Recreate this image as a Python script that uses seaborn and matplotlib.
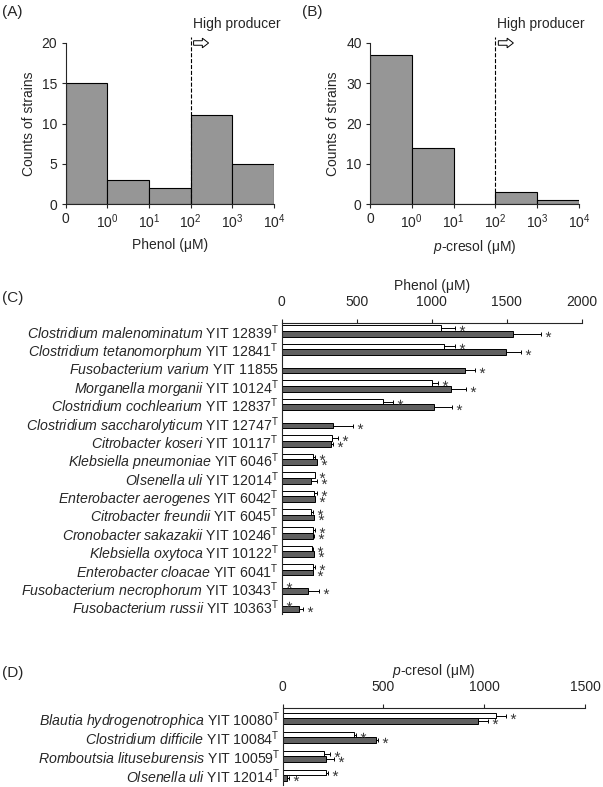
import numpy as np
import pandas as pd
import matplotlib
matplotlib.use("Agg")
import matplotlib.pyplot as plt
from matplotlib.patches import FancyArrow
from matplotlib.transforms import offset_copy
import seaborn as sns

# ---- data ----
bin_labels = ["0", r"$\mathregular{10^{0}}$", r"$\mathregular{10^{1}}$",
              r"$\mathregular{10^{2}}$", r"$\mathregular{10^{3}}$", r"$\mathregular{10^{4}}$"]
phenol_counts = [15, 3, 2, 11, 5]
cresol_counts = [37, 14, 0, 3, 1]

c_species = ["Clostridium malenominatum", "Clostridium tetanomorphum", "Fusobacterium varium",
             "Morganella morganii", "Clostridium cochlearium", "Clostridium saccharolyticum",
             "Citrobacter koseri", "Klebsiella pneumoniae", "Olsenella uli",
             "Enterobacter aerogenes", "Citrobacter freundii", "Cronobacter sakazakii",
             "Klebsiella oxytoca", "Enterobacter cloacae", "Fusobacterium necrophorum",
             "Fusobacterium russii"]
c_strains = ["12839", "12841", "11855", "10124", "12837", "12747", "10117", "6046",
             "12014", "6042", "6045", "10246", "10122", "6041", "10343", "10363"]
c_type = [1, 1, 0, 1, 1, 1, 1, 1, 1, 1, 1, 1, 1, 1, 1, 1]
c_white = [1060, 1080, 0, 1000, 675, 0, 333, 211, 220, 218, 193, 207, 204, 207, 0, 0]
c_white_err = [92, 75, 0, 40, 66, 0, 45, 13, 4, 15, 16, 13, 5, 13, 0, 0]
c_dark = [1545, 1498, 1225, 1128, 1015, 344, 327, 233, 193, 220, 213, 211, 213, 207, 175, 118]
c_dark_err = [184, 98, 65, 102, 117, 131, 13, 5, 40, 4, 5, 4, 5, 4, 76, 26]
c_white_star = [1, 1, 0, 1, 1, 0, 1, 1, 1, 1, 1, 1, 1, 1, 1, 1]

d_species = ["Blautia hydrogenotrophica", "Clostridium difficile",
             "Romboutsia lituseburensis", "Olsenella uli"]
d_strains = ["10080", "10084", "10059", "12014"]
d_type = [1, 1, 1, 1]
d_white = [1057, 354, 205, 215]
d_white_err = [50, 8, 30, 12]
d_dark = [971, 463, 213, 20]
d_dark_err = [49, 12, 42, 13]
d_white_star = [1, 1, 1, 1]

HIST_GREY = "#969696"
DARK_GREY = "#606060"

sns.set_style("ticks")
plt.rcParams["font.family"] = ["Liberation Sans", "DejaVu Sans"]
plt.rcParams["mathtext.fontset"] = "custom"
plt.rcParams["mathtext.rm"] = "Liberation Sans"
plt.rcParams["mathtext.it"] = "Liberation Sans:italic"
plt.rcParams["axes.linewidth"] = 0.8

W, H = 603, 787
fig = plt.figure(figsize=(W / 100, H / 100), dpi=100)


def px_rect(l, t, r, b):
    return [l / W, 1 - b / H, (r - l) / W, (b - t) / H]


def hist_panel(rect, counts, ymax, step, xlabel, tag, tag_x):
    ax = fig.add_axes(px_rect(*rect))
    hdf = pd.DataFrame({"pos": np.arange(len(counts)) + 0.5, "count": counts})
    sns.histplot(data=hdf, x="pos", weights="count", binwidth=1, binrange=(0, len(counts)),
                 color=HIST_GREY, edgecolor="black", linewidth=0.8, alpha=1, ax=ax)
    ax.set_xlim(0, len(counts))
    ax.set_ylim(0, ymax)
    ax.set_xticks(range(len(counts) + 1))
    ax.set_xticklabels(bin_labels)
    ax.set_yticks(np.arange(0, ymax + 1, step))
    ax.tick_params(labelsize=10, length=3, width=0.8, pad=3)
    ax.set_xlabel(xlabel, fontsize=10, labelpad=5)
    ax.set_ylabel("Counts of strains", fontsize=10, labelpad=4)
    sns.despine(ax=ax)
    # threshold line at 10^2 and "high producer" note
    ax.plot([3, 3], [0, ymax * 1.04], ls="--", color="black", lw=0.8, clip_on=False)
    ax.text(3.05, ymax * 1.12, "High producer", fontsize=10, va="center", ha="left")
    ax.add_patch(FancyArrow(3.07, ymax, 0.36, 0, width=ymax * 0.028, head_width=ymax * 0.06,
                            head_length=0.15, length_includes_head=True,
                            fc="white", ec="black", lw=0.7, clip_on=False))
    fig.text(tag_x / W, 1 - 12 / H, tag, fontsize=11, va="center")
    return ax


hist_panel((65.7, 43, 274, 204), phenol_counts, 20, 5, "Phenol (μM)", "(A)", 2)
hist_panel((370, 43, 579, 204), cresol_counts, 40, 10, r"$\it{p}$-cresol (μM)", "(B)", 302)


def fmt_label(sp, st, t):
    sp_tex = sp.replace(" ", r"\ ")
    s = r"$\it{" + sp_tex + "}$ YIT " + st
    if t:
        s += r"$^{\rm T}$"
    return s


def bar_panel(rect, species, strains, types, white, white_err, dark, dark_err, white_star,
              xmax, xstep, xlabel, ylim, width, tag, tag_y):
    ax = fig.add_axes(px_rect(*rect))
    keys = [f"{a} {b}" for a, b in zip(species, strains)]
    df = pd.DataFrame({
        "strain": keys * 2,
        "value": white + dark,
        "cond": ["white"] * len(keys) + ["dark"] * len(keys),
    })
    sns.barplot(data=df, y="strain", x="value", hue="cond", order=keys,
                hue_order=["white", "dark"], palette={"white": "white", "dark": DARK_GREY},
                orient="h", width=width, errorbar=None, edgecolor="black", linewidth=0.7,
                legend=False, ax=ax)
    pos = np.arange(len(keys))
    off = width / 4
    star_tr = offset_copy(ax.transData, fig=fig, x=7, y=0, units="dots")
    for vals, errs, y, stars in [(white, white_err, pos - off, white_star),
                                 (dark, dark_err, pos + off, [1] * len(keys))]:
        vals = np.array(vals, float)
        errs = np.array(errs, float)
        m = errs > 0
        ax.errorbar(vals[m], y[m], xerr=[np.zeros(m.sum()), errs[m]], fmt="none",
                    ecolor="black", elinewidth=0.7, capsize=1.6, capthick=0.7)
        s = np.array(stars, bool)
        # significance asterisks just right of each error bar
        ax.plot((vals + errs)[s], y[s], ls="none", marker=r"$*$", ms=4, mew=0,
                color="#333333", transform=star_tr, clip_on=False)
    ax.set_xlim(0, xmax)
    ax.set_ylim(*ylim)
    ax.xaxis.tick_top()
    ax.xaxis.set_label_position("top")
    ax.set_xticks(np.arange(0, xmax + 1, xstep))
    ax.tick_params(axis="x", labelsize=10, length=3, width=0.8, pad=7)
    ax.tick_params(axis="y", length=0, pad=2)
    ax.set_yticks(pos)
    ax.set_yticklabels([fmt_label(a, b, t) for a, b, t in zip(species, strains, types)],
                       fontsize=10.2)
    ax.set_xlabel(xlabel, fontsize=10, labelpad=4)
    ax.set_ylabel("")
    for side in ["right", "bottom"]:
        ax.spines[side].set_visible(False)
    fig.text(2 / W, 1 - tag_y / H, tag, fontsize=11, va="center")
    return ax


bar_panel((281.7, 323, 581.7, 614), c_species, c_strains, c_type, c_white, c_white_err,
          c_dark, c_dark_err, c_white_star, 2000, 500, "Phenol (μM)", (15.41, -0.43), 0.62,
          "(C)", 298)
bar_panel((282.7, 708, 585, 785), d_species, d_strains, d_type, d_white, d_white_err,
          d_dark, d_dark_err, d_white_star, 1500, 500, r"$\it{p}$-cresol (μM)", (3.5, -0.55),
          0.6, "(D)", 673)

fig.savefig("out.png", dpi=100)
